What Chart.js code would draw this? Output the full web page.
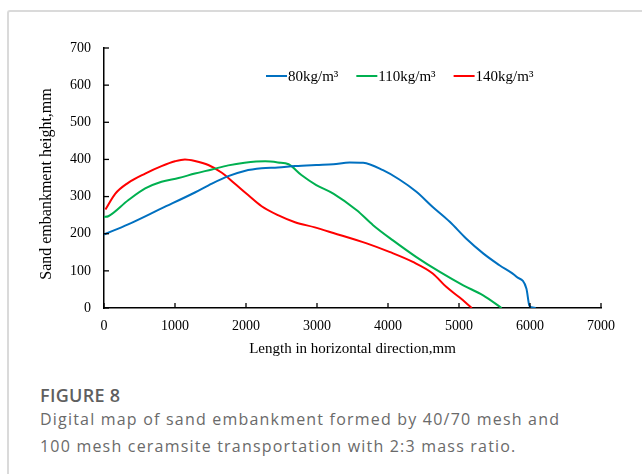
<!DOCTYPE html>
<html>
<head>
<meta charset="utf-8">
<script src="https://cdn.jsdelivr.net/npm/chart.js@4"></script>
<style>
	body{margin:0;background:#fff;width:642px;height:474px;overflow:hidden;position:relative;}
	#frame{position:absolute;left:7px;top:10px;width:660px;height:500px;border-top:2px solid #dadada;border-left:2px solid #dadada;border-top-left-radius:3px;}
	#chartBox{position:absolute;left:0;top:0;width:642px;height:370px;}
	#figLabel{position:absolute;left:40px;top:383px;font-family:"Open Sans",sans-serif;font-size:18px;font-weight:600;color:#5f5f5f;letter-spacing:0.3px;}
	#figText{position:absolute;left:40px;top:406px;width:600px;font-family:"Open Sans",sans-serif;font-size:16px;line-height:27px;color:#6a6a6a;letter-spacing:1.2px;}
</style>
</head>
<body>
<div id="frame"></div>
<div id="chartBox"><canvas id="sandChart" width="642" height="370"></canvas></div>
<div id="figLabel">FIGURE 8</div>
<div id="figText">Digital map of sand embankment formed by 40/70 mesh and<br>100 mesh ceramsite transportation with 2:3 mass ratio.</div>
<script>
var seriesNames = ["80kg/m\u00b3", "110kg/m\u00b3", "140kg/m\u00b3"];
var lineColors = ["#0070c0", "#00b050", "#ff0000"];

var blueX = [0, 340, 810, 1280, 1520, 1750, 1980, 2220, 2450, 2690, 2990, 3230, 3460, 3650, 3930, 4160, 4400, 4630, 4870, 5100, 5340, 5570, 5810, 5950, 5990, 6020, 6080];
var blueY = [198, 225, 268, 311, 335, 355, 369, 376, 378, 382, 385, 387, 392, 391, 371, 346, 313, 272, 232, 187, 147, 115, 84, 52, 7, 2, 0];

var greenX = [0, 60, 340, 580, 810, 1050, 1280, 1520, 1750, 1980, 2270, 2450, 2600, 2780, 2990, 3230, 3560, 3790, 4070, 4400, 4730, 5060, 5340, 5600];
var greenY = [245, 247, 290, 322, 340, 350, 362, 373, 384, 391, 395, 392, 387, 358, 331, 308, 263, 223, 182, 137, 97, 61, 34, 0];

var redX = [20, 160, 340, 580, 810, 1000, 1140, 1280, 1470, 1660, 1840, 2030, 2220, 2450, 2690, 2970, 3230, 3700, 4020, 4350, 4630, 4820, 5010, 5180];
var redY = [265, 308, 337, 362, 382, 395, 400, 396, 385, 364, 335, 304, 274, 250, 231, 217, 202, 174, 151, 124, 93, 57, 28, 0];

var xTicks = [0, 1000, 2000, 3000, 4000, 5000, 6000, 7000];
var yTicks = [0, 100, 200, 300, 400, 500, 600, 700];

function toPoints(xs, ys){
	var pts = [];
	for (var i=0; i<xs.length; i++){
		pts.push({x: xs[i], y: ys[i]});
	}
	return pts;
}

var allX = [blueX, greenX, redX];
var allY = [blueY, greenY, redY];
var datasets = [];
for (var i=0; i<seriesNames.length; i++){
	datasets.push({
		label: seriesNames[i],
		data: toPoints(allX[i], allY[i]),
		borderColor: lineColors[i],
		backgroundColor: lineColors[i],
		borderWidth: 2,
		pointRadius: 0,
		fill: false,
		cubicInterpolationMode: "monotone"
	});
}

var serif = "'Liberation Serif', 'Times New Roman', serif";

// tick marks pointing into the plot, and the legend drawn inside it
var insideBits = {
	id: "insideBits",
	afterDraw: function(chart){
		var ctx = chart.ctx, a = chart.chartArea;
		var xs = chart.scales.x, ys = chart.scales.y;
		ctx.save();
		ctx.strokeStyle = "#000";
		ctx.lineWidth = 1.3;
		xTicks.forEach(function(v){
			var px = xs.getPixelForValue(v);
			ctx.beginPath(); ctx.moveTo(px, a.bottom); ctx.lineTo(px, a.bottom-5); ctx.stroke();
		});
		yTicks.forEach(function(v){
			var py = ys.getPixelForValue(v);
			ctx.beginPath(); ctx.moveTo(a.left, py); ctx.lineTo(a.left+5, py); ctx.stroke();
		});
		// legend
		ctx.font = "15px " + serif;
		ctx.textBaseline = "middle";
		var lx = 266, ly = 76;
		chart.data.datasets.forEach(function(ds){
			ctx.strokeStyle = ds.borderColor;
			ctx.lineWidth = 2;
			ctx.beginPath(); ctx.moveTo(lx, ly); ctx.lineTo(lx+21, ly); ctx.stroke();
			ctx.fillStyle = "#000";
			ctx.fillText(ds.label, lx+22, ly+1);
			lx += 22 + ctx.measureText(ds.label).width + 18;
		});
		ctx.restore();
	}
};

function plainLabel(v){ return String(v); }

new Chart(document.getElementById("sandChart"), {
	type: "line",
	data: {datasets: datasets},
	plugins: [insideBits],
	options: {
		responsive: false,
		animation: false,
		layout: {padding: {top: 48, right: 41, left: 0, bottom: 0}},
		plugins: {legend: {display: false}, tooltip: {enabled: false}},
		scales: {
			x: {
				type: "linear",
				min: 0, max: 7000,
				afterBuildTicks: function(scale){ scale.ticks = xTicks.map(function(v){ return {value: v}; }); },
				afterFit: function(scale){ scale.height = 62; },
				grid: {drawOnChartArea: false, drawTicks: false},
				border: {display: true, color: "#000", width: 1.5},
				ticks: {padding: 10, color: "#000", font: {family: serif, size: 14}, maxRotation: 0, callback: plainLabel},
				title: {display: true, text: "Length in horizontal direction,mm", color: "#000", font: {family: serif, size: 15}, padding: {top: 0, bottom: 12}}
			},
			y: {
				min: 0, max: 700,
				afterBuildTicks: function(scale){ scale.ticks = yTicks.map(function(v){ return {value: v}; }); },
				afterFit: function(scale){ scale.width = 104; },
				grid: {drawOnChartArea: false, drawTicks: false},
				border: {display: true, color: "#000", width: 1.5},
				ticks: {padding: 13, color: "#000", font: {family: serif, size: 14}, callback: plainLabel},
				title: {display: true, text: "Sand embankment height,mm   ", color: "#000", font: {family: serif, size: 16}, padding: {top: 37, bottom: 0}}
			}
		}
	}
});
</script>
</body>
</html>
